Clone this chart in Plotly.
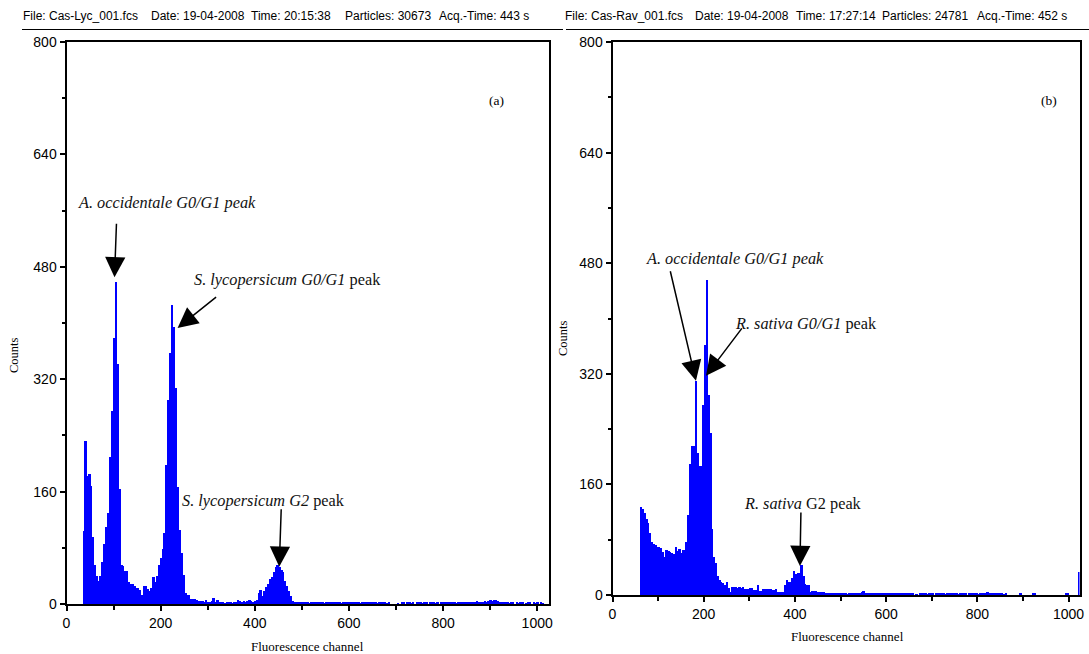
import numpy as np
import plotly.graph_objects as go

# ---- Histogram data: counts per 4-channel bin (256 bins, channels 0-1023) ----
lyc_counts = (
    [0] * 9
    + [104, 232, 182, 185, 168, 95, 55, 40, 33, 40,
       60, 85, 110, 130, 209, 275, 378, 458, 341, 164,
       56, 54, 47, 47, 32, 28, 28, 25, 23, 23,
       20, 13, 25, 25, 22, 19, 23, 39, 32, 40,
       55, 65, 78, 101, 198, 291, 358, 426, 395, 307,
       167, 106, 73, 42, 16, 13, 13, 7, 7, 7,
       6, 4, 4, 4, 3, 5, 3, 2, 4, 9,
       3, 6, 2, 2, 2, 1, 2, 2, 2, 1,
       2, 2, 5, 4, 2, 4, 2, 4, 5, 4,
       3, 4, 6, 15, 20, 11, 19, 24, 28, 36,
       39, 46, 52, 56, 53, 49, 45, 33, 25, 18,
       11, 4, 2]
    + [2, 3, 2, 2, 3, 2, 2, 1, 2, 3, 2, 2, 2, 3, 2, 1, 2, 2, 2, 2,
       3, 2, 2, 2, 1, 2, 2, 2, 3, 2, 2, 2, 2, 2, 1, 2, 2, 3, 2, 2,
       2, 2, 2, 1, 2, 2, 2, 2, 1, 2]
    + [0, 0, 0, 0, 1, 0]
    + [2, 2, 0, 2, 2, 1, 2, 0, 2, 2, 2, 1, 2, 2, 0, 2, 2, 2, 1, 2,
       0, 2, 2, 2, 2, 3, 2, 2, 2, 1, 2, 2, 3, 2, 2, 2, 3, 2, 2, 3,
       4, 3, 2, 3]
    + [4, 3, 4, 6, 4, 5, 5, 4, 3, 3, 2]
    + [2, 2, 1, 2, 2, 0, 2, 1, 2, 2, 0, 1, 2, 2, 0, 2, 1, 2, 0, 2,
       1, 0, 0]
)

rav_counts = (
    [0] * 15
    + [128, 124, 118, 110, 104, 90, 76, 74, 72, 70,
       70, 68, 62, 55, 65, 63, 62, 61, 60, 70,
       63, 67, 61, 65, 65, 76, 116, 190, 215, 215,
       309, 205, 186, 186, 275, 362, 456, 289, 234, 96,
       55, 46, 27, 22, 19, 17, 14, 19, 10, 5,
       12, 12, 12, 10, 11, 10, 12, 8, 8, 8,
       10, 10, 7, 7, 14, 6, 6, 9, 9, 8,
       8, 9, 7, 7, 9, 5, 5, 5, 5, 14,
       21, 19, 19, 24, 35, 30, 32, 32, 43, 27,
       16, 14, 14, 5, 6, 6, 6, 4, 4, 4, 5, 3]
    + [3, 2, 2, 3, 2, 2, 2, 3, 2, 2, 2, 1, 2, 2, 3]
    + [2, 2, 2, 2, 4, 6, 2, 2, 2]
    + [2, 2, 2, 3, 2, 2, 2, 2, 2, 2, 3, 2, 2, 2, 2, 2, 2, 2, 2, 2,
       2, 2, 2, 2]
    + [0, 1, 0, 2]
    + [2, 2, 2, 1, 2, 2, 2, 0, 2, 2, 2, 2, 2, 1, 2, 2, 2, 2, 2, 2,
       1, 2, 2, 2, 2, 0, 2, 2, 2, 2, 2, 1, 2, 2, 2]
    + [3, 4, 3, 2]
    + [2, 2, 2, 2, 2, 2, 1, 2]
    + [0] * 6
    + [0, 3, 0, 0]
    + [0, 0, 0, 0, 2, 2, 0]
    + [0] * 14
    + [0, 2, 2, 0, 0]
    + [0, 0, 0]
    + [33]
)

BIN = 4
lyc_channels = BIN * np.arange(len(lyc_counts))
rav_channels = BIN * np.arange(len(rav_counts)) + BIN / 2

x_ticks = [0, 200, 400, 600, 800, 1000]
y_ticks = [0, 160, 320, 480, 640, 800]

headers = {
    "left": [("File: Cas-Lyc_001.fcs", 21), ("Date: 19-04-2008", 149),
             ("Time: 20:15:38", 249), ("Particles: 30673", 343),
             ("Acq.-Time: 443 s", 437)],
    "right": [("File: Cas-Rav_001.fcs", 563), ("Date: 19-04-2008", 693),
              ("Time: 17:27:14", 794), ("Particles: 24781", 880),
              ("Acq.-Time: 452 s", 975)],
}

W, H = 1089, 654
BLUE = "#0000ff"
SANS = "Liberation Sans, Arial, sans-serif"
SERIF = "Liberation Serif, Times New Roman, serif"


def px(x):
    return x / W


def py(y):
    return 1 - y / H


fig = go.Figure()
fig.add_trace(go.Bar(x=lyc_channels, y=lyc_counts, width=BIN, marker=dict(color=BLUE, line=dict(width=0)),
                     xaxis="x", yaxis="y", showlegend=False, hoverinfo="x+y"))
fig.add_trace(go.Bar(x=rav_channels, y=rav_counts, width=BIN, marker=dict(color=BLUE, line=dict(width=0)),
                     xaxis="x2", yaxis="y2", showlegend=False, hoverinfo="x+y"))

axis_common = dict(showline=True, linecolor="black", linewidth=2, mirror=True, showgrid=False,
                   zeroline=False, automargin=False,
                   ticks="outside", ticklen=5, tickwidth=1.5, tickcolor="black",
                   tickfont=dict(family=SANS, size=14, color="black"))

xaxis = dict(axis_common, range=[0, 1024], tickvals=x_ticks,
             minor=dict(tickvals=[100, 300, 500, 700, 900], ticks="outside", ticklen=4,
                        tickwidth=1.5, tickcolor="black"))
yaxis = dict(axis_common, range=[0, 800], tickvals=y_ticks,
             minor=dict(tickvals=[80, 240, 400, 560, 720], ticks="outside", ticklen=3,
                        tickwidth=1.5, tickcolor="black"))

fig.update_layout(
    width=W, height=H, autosize=False, margin=dict(l=0, r=0, t=0, b=0, pad=0),
    paper_bgcolor="white", plot_bgcolor="white",
    bargap=0, showlegend=False,
    xaxis=dict(xaxis, domain=[px(66.5), px(548.5)], anchor="y"),
    yaxis=dict(yaxis, domain=[py(604), py(42)], anchor="x"),
    xaxis2=dict(xaxis, domain=[px(612.5), px(1079.5)], anchor="y2"),
    yaxis2=dict(yaxis, domain=[py(595), py(42)], anchor="x2"),
)

ann = []
# file / acquisition headers
for key in ("left", "right"):
    for text, x0 in headers[key]:
        ann.append(dict(text=text, x=px(x0), y=py(16), xref="paper", yref="paper",
                        xanchor="left", yanchor="middle", showarrow=False,
                        font=dict(family=SANS, size=12, color="black")))

shapes = [
    dict(type="line", xref="paper", yref="paper", x0=px(22), x1=px(563), y0=py(29.5), y1=py(29.5),
         line=dict(color="black", width=1.2)),
    dict(type="line", xref="paper", yref="paper", x0=px(566), x1=px(1089), y0=py(29.5), y1=py(29.5),
         line=dict(color="black", width=1.2)),
]

# axis titles
for x, y in ((14, 355), (563, 338)):
    ann.append(dict(text="Counts", x=px(x), y=py(y), xref="paper", yref="paper", textangle=-90,
                    xanchor="center", yanchor="middle", showarrow=False,
                    font=dict(family=SERIF, size=12.5, color="black")))
for x, y in ((307, 646), (847, 636)):
    ann.append(dict(text="Fluorescence channel", x=px(x), y=py(y), xref="paper", yref="paper",
                    xanchor="center", yanchor="middle", showarrow=False,
                    font=dict(family=SERIF, size=13, color="black")))

# panel tags
for t, x in (("(a)", 496), ("(b)", 1049)):
    ann.append(dict(text=t, x=px(x), y=py(100), xref="paper", yref="paper", showarrow=False,
                    xanchor="center", yanchor="middle",
                    font=dict(family=SERIF, size=13.5, color="black")))

# peak labels
labels = [
    ("<i>A. occidentale G0/G1 peak</i>", 76, 203),
    ("<i>S. lycopersicum G0/G1</i> peak", 192, 280),
    ("<i>S. lycopersicum G2</i> peak", 180, 500),
    ("<i>A. occidentale G0/G1 peak</i>", 644, 258),
    ("<i>R. sativa G0/G1</i> peak", 733, 323),
    ("<i>R. sativa</i> G2 peak", 742, 503),
]
for t, x, y in labels:
    ann.append(dict(text=t, x=px(x), y=py(y), xref="paper", yref="paper", xanchor="left",
                    yanchor="middle", showarrow=False,
                    font=dict(family=SERIF, size=16.3, color="#111111")))

# arrows pointing at the peaks (tip in data units, tail offset in pixels)
arrows = [
    ("x", "y", 102, 465, 2, -55),
    ("x", "y", 236, 393, 40, -32),
    ("x", "y", 452, 53, 2, -59),
    ("x2", "y2", 183, 310, -26, -111),
    ("x2", "y2", 205, 317, 37, -49),
    ("x2", "y2", 411, 42, 1, -55),
]
for xr, yr, x, y, ax, ay in arrows:
    ann.append(dict(text="", x=x, y=y, xref=xr, yref=yr, ax=ax, ay=ay, showarrow=True,
                    arrowhead=2, arrowsize=2.7, arrowwidth=1.5, arrowcolor="black"))

fig.update_layout(annotations=ann, shapes=shapes)

# fixed-size page: keep the figure at its own pixel size instead of following the window
fig.write_html("out.html", config={"responsive": False})
